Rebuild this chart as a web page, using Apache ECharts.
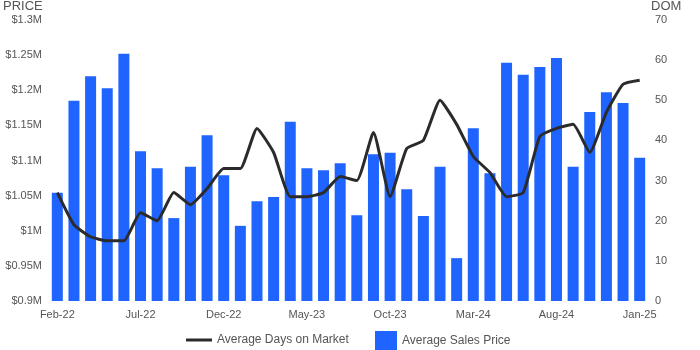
<!DOCTYPE html>
<html>
<head>
<meta charset="utf-8">
<script src="https://cdn.jsdelivr.net/npm/echarts@6/dist/echarts.min.js"></script>
<style>
  html, body { margin: 0; padding: 0; background: #fff; }
  #chart { width: 700px; height: 350px; }
</style>
</head>
<body>
<div id="chart"></div>
<script>
// Monthly market summary: average sale price (bars, $M) and days on market (line)
const months = [
  'Feb-22','Mar-22','Apr-22','May-22','Jun-22','Jul-22','Aug-22','Sep-22','Oct-22','Nov-22','Dec-22',
  'Jan-23','Feb-23','Mar-23','Apr-23','May-23','Jun-23','Jul-23','Aug-23','Sep-23','Oct-23','Nov-23','Dec-23',
  'Jan-24','Feb-24','Mar-24','Apr-24','May-24','Jun-24','Jul-24','Aug-24','Sep-24','Oct-24','Nov-24','Dec-24',
  'Jan-25'
];

// Average sales price, millions of dollars
const avgPrice = [
  1.054, 1.185, 1.220, 1.203, 1.252, 1.113, 1.089, 1.018, 1.091, 1.136, 1.079,
  1.007, 1.042, 1.048, 1.155, 1.089, 1.086, 1.096, 1.022, 1.109, 1.111, 1.059, 1.021,
  1.091, 0.961, 1.146, 1.082, 1.239, 1.222, 1.233, 1.246, 1.091, 1.169, 1.197, 1.182,
  1.104
];

// Average days on market
const avgDom = [
  27, 19, 16, 15, 15, 22, 20, 27, 24, 28, 33,
  33, 43, 37, 26, 26, 27, 31, 30, 42, 26, 38, 40,
  50, 44, 36, 32, 26, 27, 41, 43, 44, 37, 47, 54,
  55
];

const priceTicks = { min: 0.9, max: 1.3, step: 0.05 };
const domTicks = { min: 0, max: 70, step: 10 };

const textColor = '#555';
const font = 'Liberation Sans, Arial, sans-serif';

const chart = echarts.init(document.getElementById('chart'), null, { renderer: 'canvas' });

chart.setOption({
  animation: false,
  backgroundColor: '#fff',
  textStyle: { fontFamily: font },
  grid: { left: 49, right: 52, top: 20, bottom: 49 },
  graphic: [
    { type: 'text', left: 3, top: 0, style: { text: 'PRICE', fill: textColor, font: '13px ' + font } },
    { type: 'text', left: 651, top: 0, style: { text: 'DOM', fill: textColor, font: '13px ' + font } }
  ],
  legend: [
    {
      left: 181, top: 329,
      itemWidth: 26, itemHeight: 3,
      icon: 'rect',
      data: ['Average Days on Market'],
      textStyle: { color: textColor, fontSize: 12, fontFamily: font }
    },
    {
      left: 370, top: 326,
      itemWidth: 22, itemHeight: 20,
      icon: 'rect',
      data: ['Average Sales Price'],
      textStyle: { color: textColor, fontSize: 12, fontFamily: font }
    }
  ],
  xAxis: {
    type: 'category',
    data: months,
    boundaryGap: true,
    axisLine: { show: false },
    axisTick: { show: false },
    axisLabel: { interval: 4, color: textColor, fontSize: 11, margin: 8 }
  },
  yAxis: [
    {
      type: 'value',
      min: priceTicks.min, max: priceTicks.max, interval: priceTicks.step,
      splitLine: { show: false },
      axisLine: { show: false },
      axisTick: { show: false },
      axisLabel: {
        color: textColor, fontSize: 11, margin: 7,
        formatter: v => '$' + parseFloat(v.toFixed(2)) + 'M'
      }
    },
    {
      type: 'value',
      min: domTicks.min, max: domTicks.max, interval: domTicks.step,
      splitLine: { show: false },
      axisLine: { show: false },
      axisTick: { show: false },
      axisLabel: { color: textColor, fontSize: 11, margin: 7 }
    }
  ],
  series: [
    {
      name: 'Average Sales Price',
      type: 'bar',
      yAxisIndex: 0,
      data: avgPrice,
      barWidth: 11,
      itemStyle: { color: '#1f64ff' }
    },
    {
      name: 'Average Days on Market',
      type: 'line',
      yAxisIndex: 1,
      data: avgDom,
      smooth: 0.15,
      showSymbol: false,
      symbol: 'none',
      lineStyle: { color: '#2b2b2b', width: 3 },
      itemStyle: { color: '#2b2b2b' },
      z: 5
    }
  ]
});
</script>
</body>
</html>
